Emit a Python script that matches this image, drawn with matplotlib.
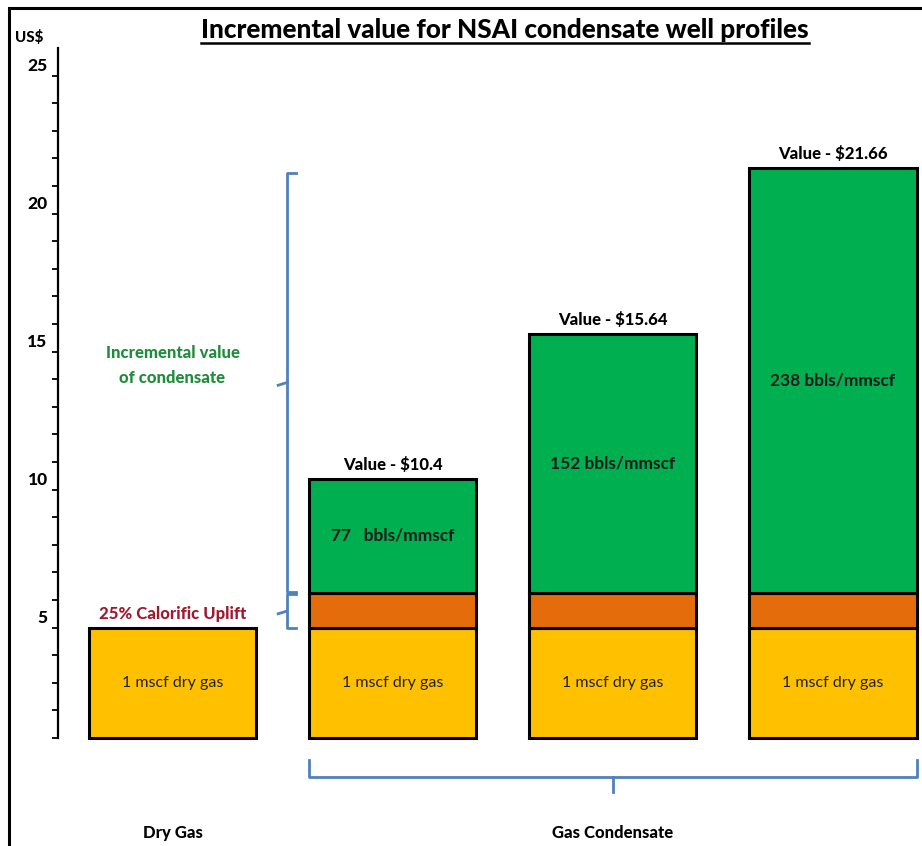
import numpy as np
import matplotlib.pyplot as plt
from matplotlib.lines import Line2D
from matplotlib.patches import Rectangle
from matplotlib.transforms import blended_transform_factory, ScaledTranslation

plt.rcParams['font.family'] = ['Lato', 'DejaVu Sans']

# values per column (US$ per mscf)
groups      = ['Dry Gas', 'Gas Condensate']
dry_gas     = [5, 5, 5, 5]
uplift      = [0, 1.25, 1.25, 1.25]
total_value = [5, 10.4, 15.64, 21.66]
condensate  = [None, 77, 152, 238]
cond_labels = ['', '77   bbls/mmscf', '152 bbls/mmscf', '238 bbls/mmscf']

YELLOW = '#FFC000'
ORANGE = '#E46C0A'
GREEN  = '#00B050'
BRACE  = '#4F81BD'

fig = plt.figure(figsize=(9.22, 8.46), dpi=100)
W, H = 922, 846
ax = fig.add_axes([58 / W, (H - 738) / H, (921 - 58) / W, (738 - 48) / H])

x = np.arange(len(dry_gas))
width = 0.76
green = [t - d - u if c else 0 for t, d, u, c in zip(total_value, dry_gas, uplift, condensate)]

ax.bar(x, dry_gas, width, color=YELLOW, edgecolor='black', linewidth=2.2)
ax.bar(x[1:], uplift[1:], width, bottom=dry_gas[1:], color=ORANGE, edgecolor='black', linewidth=2.2)
ax.bar(x[1:], green[1:], width, bottom=np.add(dry_gas, uplift)[1:], color=GREEN,
       edgecolor='black', linewidth=2.2)

ax.set_xlim(-0.52, 3.4)
ax.set_ylim(1, 26)

# bottom edge of the bars sits on the axis floor
for xi in x:
    ax.plot([xi - width / 2, xi + width / 2], [1.0, 1.0], color='black', lw=2.2,
            solid_capstyle='projecting', clip_on=False, zorder=3)

for s in ['top', 'right', 'bottom']:
    ax.spines[s].set_visible(False)
ax.spines['left'].set_linewidth(1.6)
ax.set_xticks([])
ax.set_yticks(np.arange(5, 26, 5))
ax.set_yticks(np.arange(1, 26, 1), minor=True)
ax.tick_params(axis='y', which='both', direction='out', length=4.5, width=1.3, pad=3)
ax.tick_params(axis='y', which='major', labelsize=12.5)
for lab in ax.get_yticklabels():
    lab.set_fontweight('black')
    lab.set_transform(lab.get_transform() + ScaledTranslation(0, 0.11, fig.dpi_scale_trans))

# labels in and over the bars
for xi in x:
    ax.text(xi, dry_gas[xi] / 2 + 0.5, '1 mscf dry gas', ha='center', va='center', fontsize=11.5,
            color='#222222')
for xi in x[1:]:
    base = dry_gas[xi] + uplift[xi]
    ax.text(xi, base + green[xi] / 2, cond_labels[xi], ha='center', va='center', fontsize=12.5,
            fontweight='bold', color='#1a1a1a')
    ax.text(xi, total_value[xi] + 0.2, 'Value - $' + str(total_value[xi]), ha='center',
            va='bottom', fontsize=12, fontweight='black')

ax.text(0, dry_gas[0] + 0.2, '25% Calorific Uplift', ha='center', va='bottom', fontsize=12,
        fontweight='black', color='#A0192E')
ax.text(0, 14.5, 'Incremental value\nof condensate', ha='center', va='center', fontsize=12,
        fontweight='black', color='#1E8C3A', linespacing=1.7)

# curly braces on the left of the condensate bars
bx = 0.52
hook = 0.04
lo_top = dry_gas[1] + uplift[1]
hi_top = max(total_value) - 0.2
for y0, y1 in [(dry_gas[1], lo_top - 0.05), (lo_top + 0.05, hi_top)]:
    ym = (y0 + y1) / 2
    ax.plot([bx + hook, bx, bx, bx + hook], [y1, y1, y0, y0], color=BRACE, lw=2, clip_on=False)
    ax.plot([bx, bx - hook], [ym, ym - 0.1], color=BRACE, lw=2, clip_on=False)

# brace under the condensate columns
tr = blended_transform_factory(ax.transData, fig.transFigure)
xl, xr = x[1] - width / 2, x[3] + width / 2
yb, yu, yn = (H - 777) / H, (H - 760) / H, (H - 792) / H
ax.plot([xl, xl, xr, xr], [yu, yb, yb, yu], color=BRACE, lw=2, transform=tr, clip_on=False)
ax.plot([x[2], x[2]], [yb, yn], color=BRACE, lw=2, transform=tr, clip_on=False)

ax.text(x[0], (H - 833) / H, groups[0], transform=tr, ha='center', va='center', fontsize=12,
        fontweight='black')
ax.text(x[2], (H - 833) / H, groups[1], transform=tr, ha='center', va='center', fontsize=12,
        fontweight='black')

fig.text(15 / W, (H - 38) / H, 'US$', ha='left', va='center', fontsize=11, fontweight='black')
title = fig.text(505 / W, (H - 30) / H, 'Incremental value for NSAI condensate well profiles',
                 ha='center', va='center', fontsize=18.8, fontweight='black')

# frame around the slide
fig.add_artist(Rectangle((9 / W, -0.1), 1.2, (H - 8) / H + 0.1, transform=fig.transFigure,
                         fill=False, edgecolor='black', linewidth=2.2))

fig.canvas.draw()
bb = title.get_window_extent()
fig.add_artist(Line2D([bb.x0 / W, bb.x1 / W], [(bb.y0 - 1) / H, (bb.y0 - 1) / H],
                      transform=fig.transFigure, color='black', lw=1.8))

fig.savefig('out.png', dpi=100)
